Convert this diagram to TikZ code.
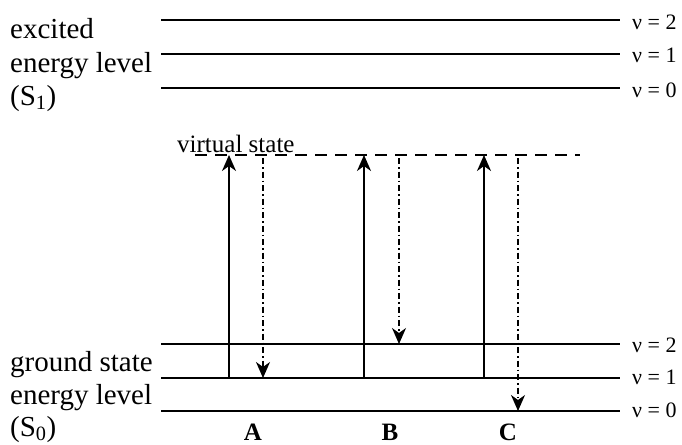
\documentclass[tikz,border=0pt]{standalone}
\usepackage{fontspec}
\setmainfont{Liberation Serif}
\usetikzlibrary{arrows.meta}
\begin{document}
\begin{tikzpicture}[x=1pt,y=-1pt,
  level/.style={line width=1.7pt},
  uparrow/.style={line width=1.6pt,arrows={-Stealth[length=16pt,width=14pt,inset=5pt]}},
  downarrow/.style={line width=1.4pt,dash pattern=on 6pt off 3pt on 1.5pt off 3pt,arrows={-Stealth[length=16pt,width=14pt,inset=5pt]}},
  virt/.style={line width=1.4pt,dash pattern=on 12pt off 8pt},
  big/.style={font=\fontsize{29}{34}\selectfont,inner sep=0pt,anchor=base west},
  nu/.style={font=\fontsize{22}{24}\selectfont,inner sep=0pt,anchor=base west},
  vs/.style={font=\fontsize{25}{28}\selectfont,inner sep=0pt,anchor=base west},
  lab/.style={font=\fontsize{25}{28}\selectfont\bfseries,inner sep=0pt,anchor=base}]
\useasboundingbox (0,0) rectangle (682,444);

% excited levels
\coordinate (e2l) at (161,20);  \coordinate (e2r) at (620,20);
\coordinate (e1l) at (161,54);  \coordinate (e1r) at (620,54);
\coordinate (e0l) at (161,88);  \coordinate (e0r) at (620,88);
% ground levels
\coordinate (g2l) at (161,344); \coordinate (g2r) at (620,344);
\coordinate (g1l) at (161,378); \coordinate (g1r) at (620,378);
\coordinate (g0l) at (161,411); \coordinate (g0r) at (620,411);
% virtual state
\coordinate (vl) at (195,155); \coordinate (vr) at (580,155);

\draw[level] (e2l) -- (e2r);
\draw[level] (e1l) -- (e1r);
\draw[level] (e0l) -- (e0r);
\draw[level] (g2l) -- (g2r);
\draw[level] (g1l) -- (g1r);
\draw[level] (g0l) -- (g0r);
\draw[virt] (vl) -- (vr);

% labels on the right
\node[nu] (ne2) at (632,30) {ν = 2};
\node[nu] (ne1) at (632,63) {ν = 1};
\node[nu] (ne0) at (632,97) {ν = 0};
\node[nu] (ng2) at (632,352) {ν = 2};
\node[nu] (ng1) at (632,384) {ν = 1};
\node[nu] (ng0) at (632,417) {ν = 0};

% labels on the left
\node[big] (ex1) at (10,38) {excited};
\node[big] (ex2) at (10,72) {energy level};
\node[big] (ex3) at (10,105) {(S\textsubscript{1})};
\node[big] (gr1) at (10,371) {ground state};
\node[big] (gr2) at (10,404) {energy level};
\node[big] (gr3) at (10,436) {(S\textsubscript{0})};

\node[vs] (virtual) at (177,152) {virtual state};

% transitions
\coordinate (aS) at (229,378); \coordinate (aT) at (229,155);
\coordinate (bS) at (364,378); \coordinate (bT) at (364,155);
\coordinate (cS) at (484,378); \coordinate (cT) at (484,155);
\draw[uparrow] (aS) -- (aT);
\draw[uparrow] (bS) -- (bT);
\draw[uparrow] (cS) -- (cT);

\coordinate (adS) at (263,158); \coordinate (adT) at (263,378);
\coordinate (bdS) at (399,158); \coordinate (bdT) at (399,344);
\coordinate (cdS) at (518,158); \coordinate (cdT) at (518,411);
\draw[downarrow] (adS) -- (adT);
\draw[downarrow] (bdS) -- (bdT);
\draw[downarrow] (cdS) -- (cdT);

\node[lab] (A) at (253,440) {A};
\node[lab] (B) at (390,440) {B};
\node[lab] (C) at (508,440) {C};
\end{tikzpicture}
\end{document}
